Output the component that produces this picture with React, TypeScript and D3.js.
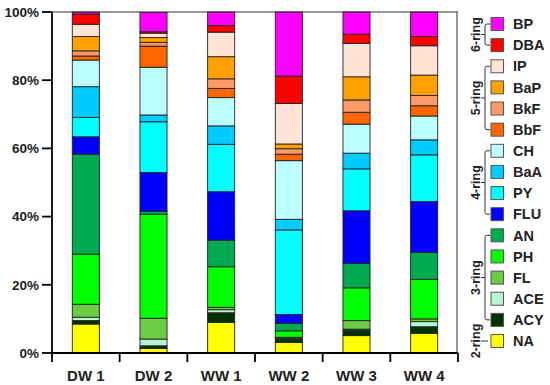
import React from "react";
import * as d3 from "d3";

const categories = ["DW 1", "DW 2", "WW 1", "WW 2", "WW 3", "WW 4"];
// stack order bottom -> top
const compounds = ["NA", "ACY", "ACE", "FL", "PH", "AN", "FLU", "PY", "BaA", "CH", "BbF", "BkF", "BaP", "IP", "DBA", "BP"];
const colors = ["#FFFF00", "#003300", "#B8F5D0", "#6CCC44", "#00FF00", "#00AA4E", "#0000FF", "#00FFFF", "#00CCFF", "#BBFFFF", "#FF6600", "#FF9966", "#FF9F00", "#FFE4D6", "#FF0000", "#FF00FF"];

const NA = [8.5, 1.3, 9.0, 3.1, 5.1, 5.8];
const ACY = [1.0, 0.8, 2.8, 0.9, 1.6, 1.9];
const ACE = [1.0, 2.0, 0.9, 0.3, 0.3, 1.5];
const FL = [3.8, 6.1, 0.7, 0.3, 2.5, 0.8];
const PH = [14.7, 30.5, 11.9, 1.9, 9.6, 11.6];
const AN = [29.3, 0.9, 7.8, 2.2, 7.2, 7.9];
const FLU = [5.1, 11.3, 14.2, 2.6, 15.4, 14.9];
const PY = [5.7, 14.9, 13.9, 24.8, 12.3, 13.7];
const BaA = [9.0, 2.0, 5.4, 3.1, 4.6, 4.4];
const CH = [7.8, 14.0, 8.3, 17.2, 8.5, 7.0];
const BbF = [1.2, 6.2, 2.7, 1.9, 3.5, 3.0];
const BkF = [1.5, 1.1, 2.8, 1.6, 3.6, 3.0];
const BaP = [4.2, 1.4, 6.5, 1.4, 6.8, 6.0];
const IP = [3.6, 1.3, 7.2, 11.9, 9.8, 8.6];
const DBA = [3.0, 0.4, 1.9, 8.0, 2.7, 2.7];
const BP = [0.6, 5.7, 4.0, 18.8, 6.5, 7.2];

const seriesValues = [NA, ACY, ACE, FL, PH, AN, FLU, PY, BaA, CH, BbF, BkF, BaP, IP, DBA, BP];

const yTicks = [0, 20, 40, 60, 80, 100];

const ringGroups = [
  { label: "6-ring", members: ["BP", "DBA"] },
  { label: "5-ring", members: ["IP", "BaP", "BkF", "BbF"] },
  { label: "4-ring", members: ["CH", "BaA", "PY", "FLU"] },
  { label: "3-ring", members: ["AN", "PH", "FL", "ACE", "ACY"] },
  { label: "2-ring", members: ["NA"] },
];

const FONT = "'Liberation Sans', Arial, sans-serif";

export default function App() {
  const W = 550, H = 385;
  const left = 52, right = 458, top = 12, bottom = 353;

  const x = d3.scaleBand<string>().domain(categories).range([left, right]).paddingInner(0.6).paddingOuter(0.3);
  const y = d3.scaleLinear().domain([0, 100]).range([bottom, top]);
  const step = x.step();

  const table = categories.map((c, i) => {
    const row: any = { cat: c };
    compounds.forEach((k, j) => (row[k] = seriesValues[j][i]));
    return row;
  });
  const stack = d3.stack<any>().keys(compounds)(table);

  const legendOrder = compounds.slice().reverse();
  const ly = d3.scaleLinear().domain([0, legendOrder.length - 1]).range([24, 341]);
  const colorOf = (k: string) => colors[compounds.indexOf(k)];

  const boundaries = d3.range(categories.length + 1).map((i) => left + i * step);

  return (
    <svg width={W} height={H} style={{ position: "absolute", left: 0, top: 0 }} fontFamily={FONT}>
      <rect width={W} height={H} fill="#fff" />
      {/* bars */}
      {stack.map((s, j) => (
        <g key={compounds[j]}>
          {s.map((d, i) => (
            <rect
              key={i}
              x={x(categories[i])}
              y={y(d[1])}
              width={x.bandwidth()}
              height={Math.max(0, y(d[0]) - y(d[1]))}
              fill={colors[j]}
              stroke="#222"
              strokeWidth={0.9}
            />
          ))}
        </g>
      ))}
      {/* frame */}
      <line x1={left} x2={right} y1={top} y2={top} stroke="#333" strokeWidth={1} />
      <line x1={right - 1} x2={right - 1} y1={top} y2={bottom} stroke="#333" strokeWidth={1} />
      {/* y axis */}
      <line x1={left} x2={left} y1={top} y2={bottom + 1} stroke="#000" strokeWidth={1.8} />
      {yTicks.map((t) => (
        <g key={t}>
          <line x1={left - 10} x2={left} y1={y(t)} y2={y(t)} stroke="#000" strokeWidth={1.8} />
          <text x={left - 13} y={y(t)} dy="0.36em" textAnchor="end" fontSize={13.5} fontWeight="bold" fill="#222">
            {t + "%"}
          </text>
        </g>
      ))}
      {/* x axis */}
      <line x1={left - 1} x2={right} y1={bottom} y2={bottom} stroke="#000" strokeWidth={1.8} />
      {boundaries.map((b, i) => (
        <line key={i} x1={b} x2={b} y1={bottom} y2={bottom + 9} stroke="#000" strokeWidth={1.8} />
      ))}
      {categories.map((c) => (
        <text key={c} x={(x(c) as number) + x.bandwidth() / 2} y={381} textAnchor="middle" fontSize={15} fontWeight="bold" fill="#222">
          {c}
        </text>
      ))}
      {/* legend */}
      {legendOrder.map((k, i) => (
        <g key={k}>
          <rect x={491} y={ly(i) - 6.5} width={12.5} height={13} fill={colorOf(k)} stroke="#555" strokeWidth={1} />
          <text x={513} y={ly(i)} dy="0.36em" fontSize={14.5} fontWeight="bold" fill="#222">
            {k}
          </text>
        </g>
      ))}
      {/* ring brackets */}
      {ringGroups.map((g) => {
        const ys = g.members.map((m) => ly(legendOrder.indexOf(m)));
        const y0 = d3.min(ys) as number;
        const y1 = d3.max(ys) as number;
        const mid = (y0 + y1) / 2;
        const bx = 485;
        return (
          <g key={g.label}>
            {g.members.length > 1 ? (
              <path
                d={`M${bx + 5},${y0} L${bx + 2},${y0} Q${bx},${y0} ${bx},${y0 + 2} L${bx},${y1 - 2} Q${bx},${y1} ${bx + 2},${y1} L${bx + 5},${y1} M${bx - 4},${mid} L${bx},${mid}`}
                fill="none"
                stroke="#333"
                strokeWidth={1}
              />
            ) : (
              <line x1={bx - 4} x2={bx + 3} y1={mid} y2={mid} stroke="#333" strokeWidth={1} />
            )}
            <text
              transform={`translate(${479.5},${mid}) rotate(-90)`}
              textAnchor="middle"
              fontSize={12.5}
              fontWeight="bold"
              fill="#222"
            >
              {g.label}
            </text>
          </g>
        );
      })}
    </svg>
  );
}
